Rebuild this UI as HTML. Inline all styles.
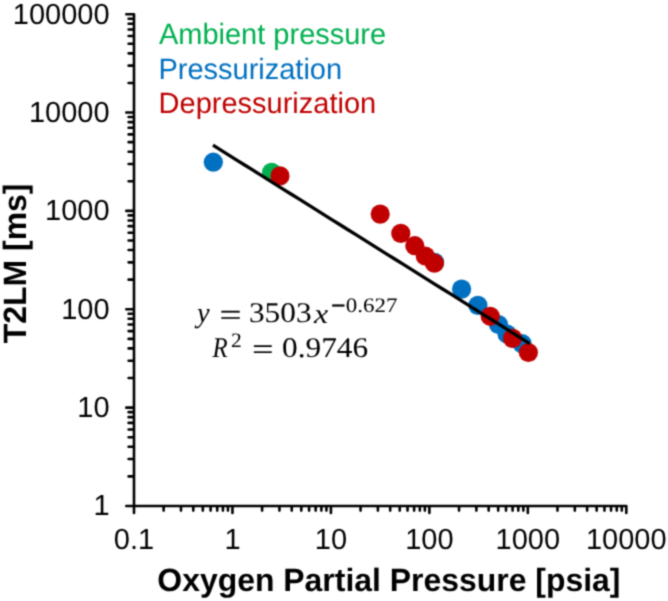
<!DOCTYPE html>
<html><head><meta charset="utf-8"><title>T2LM vs Oxygen Partial Pressure</title><style>
html,body{margin:0;padding:0;background:#fff;}
body{width:668px;height:601px;overflow:hidden;}
svg{display:block;}
text{font-kerning:none;text-rendering:geometricPrecision;letter-spacing:0;}
.s{font-family:"Liberation Sans",sans-serif;}
.b{font-family:"Liberation Sans",sans-serif;font-weight:bold;}
.r{font-family:"Liberation Serif",serif;}
.i{font-family:"Liberation Serif",serif;font-style:italic;}
</style></head><body>
<svg width="668" height="601" viewBox="0 0 668 601">
<defs><filter id="soft" color-interpolation-filters="sRGB" filterUnits="userSpaceOnUse" x="0" y="0" width="668" height="601"><feConvolveMatrix order="3" kernelMatrix="1 3 1 3 9 3 1 3 1" divisor="25" edgeMode="duplicate"/></filter></defs>
<g filter="url(#soft)">
<rect width="668" height="601" fill="#fff"/>
<path d="M126.30,14.20H134.00V506.00H626.30V513.00M126.30,506.00H134.00M128.60,476.39H134.00M128.60,459.07H134.00M128.60,446.78H134.00M128.60,437.25H134.00M128.60,429.46H134.00M128.60,422.88H134.00M128.60,417.17H134.00M128.60,412.14H134.00M126.30,407.64H134.00M128.60,378.03H134.00M128.60,360.71H134.00M128.60,348.42H134.00M128.60,338.89H134.00M128.60,331.10H134.00M128.60,324.52H134.00M128.60,318.81H134.00M128.60,313.78H134.00M126.30,309.28H134.00M128.60,279.67H134.00M128.60,262.35H134.00M128.60,250.06H134.00M128.60,240.53H134.00M128.60,232.74H134.00M128.60,226.16H134.00M128.60,220.45H134.00M128.60,215.42H134.00M126.30,210.92H134.00M128.60,181.31H134.00M128.60,163.99H134.00M128.60,151.70H134.00M128.60,142.17H134.00M128.60,134.38H134.00M128.60,127.80H134.00M128.60,122.09H134.00M128.60,117.06H134.00M126.30,112.56H134.00M128.60,82.95H134.00M128.60,65.63H134.00M128.60,53.34H134.00M128.60,43.81H134.00M128.60,36.02H134.00M128.60,29.44H134.00M128.60,23.73H134.00M128.60,18.70H134.00M126.30,14.20H134.00M134.00,506.00V513.00M163.64,506.00V510.60M180.98,506.00V510.60M193.28,506.00V510.60M202.82,506.00V510.60M210.62,506.00V510.60M217.21,506.00V510.60M222.92,506.00V510.60M227.95,506.00V510.60M232.46,506.00V513.00M262.10,506.00V510.60M279.44,506.00V510.60M291.74,506.00V510.60M301.28,506.00V510.60M309.08,506.00V510.60M315.67,506.00V510.60M321.38,506.00V510.60M326.41,506.00V510.60M330.92,506.00V513.00M360.56,506.00V510.60M377.90,506.00V510.60M390.20,506.00V510.60M399.74,506.00V510.60M407.54,506.00V510.60M414.13,506.00V510.60M419.84,506.00V510.60M424.87,506.00V510.60M429.38,506.00V513.00M459.02,506.00V510.60M476.36,506.00V510.60M488.66,506.00V510.60M498.20,506.00V510.60M506.00,506.00V510.60M512.59,506.00V510.60M518.30,506.00V510.60M523.33,506.00V510.60M527.84,506.00V513.00M557.48,506.00V510.60M574.82,506.00V510.60M587.12,506.00V510.60M596.66,506.00V510.60M604.46,506.00V510.60M611.05,506.00V510.60M616.76,506.00V510.60M621.79,506.00V510.60M626.30,506.00V513.00" stroke="#000" stroke-width="2.6" fill="none" stroke-linecap="round" stroke-linejoin="round"/>
<g fill="#000">
<text class="s" x="93.47" y="515.30" font-size="29.00">1</text>
<text class="s" x="77.34" y="416.94" font-size="29.00">10</text>
<text class="s" x="61.21" y="318.58" font-size="29.00">100</text>
<text class="s" x="45.09" y="220.22" font-size="29.00">1000</text>
<text class="s" x="28.96" y="121.86" font-size="29.00">10000</text>
<text class="s" x="12.83" y="23.50" font-size="29.00">100000</text>
<text class="s" x="113.84" y="549.00" font-size="29.00">0.1</text>
<text class="s" x="224.40" y="549.00" font-size="29.00">1</text>
<text class="s" x="314.79" y="549.00" font-size="29.00">10</text>
<text class="s" x="405.19" y="549.00" font-size="29.00">100</text>
<text class="s" x="495.58" y="549.00" font-size="29.00">1000</text>
<text class="s" x="585.98" y="549.00" font-size="29.00">10000</text>
<text class="b" transform="translate(157.29,590.90) scale(0.9901,1)" font-size="32.25">Oxygen Partial Pressure [psia]</text>
<text class="s" transform="translate(158.94,44.40) scale(0.9901,1)" font-size="29.29" fill="#00B050">Ambient pressure</text>
<text class="s" transform="translate(158.42,79.00) scale(0.9901,1)" font-size="29.29" fill="#0070C0">Pressurization</text>
<text class="s" transform="translate(158.62,113.30) scale(0.9901,1)" font-size="29.29" fill="#C00000">Depressurization</text>
<text class="b" transform="translate(26.0,342.8) rotate(-90) scale(0.9901,1)" x="-0.36" y="0" font-size="32.25">T2LM [ms]</text>
</g>
<circle cx="213.3" cy="162.2" r="9.6" fill="#0070C0"/>
<circle cx="434.6" cy="262.4" r="9.6" fill="#0070C0"/>
<circle cx="461.6" cy="289.1" r="9.6" fill="#0070C0"/>
<circle cx="477.9" cy="305.4" r="9.6" fill="#0070C0"/>
<circle cx="498.5" cy="324.5" r="9.6" fill="#0070C0"/>
<circle cx="507.0" cy="334.0" r="9.6" fill="#0070C0"/>
<circle cx="522.0" cy="343.6" r="9.6" fill="#0070C0"/>
<circle cx="271.6" cy="172.4" r="9.6" fill="#00B050"/>
<circle cx="280.0" cy="175.9" r="9.6" fill="#C00000"/>
<circle cx="380.2" cy="214.1" r="9.6" fill="#C00000"/>
<circle cx="400.8" cy="233.4" r="9.6" fill="#C00000"/>
<circle cx="414.8" cy="245.7" r="9.6" fill="#C00000"/>
<circle cx="425.3" cy="256.0" r="9.6" fill="#C00000"/>
<circle cx="434.4" cy="263.2" r="9.6" fill="#C00000"/>
<circle cx="490.2" cy="316.3" r="9.6" fill="#C00000"/>
<circle cx="512.6" cy="338.4" r="9.6" fill="#C00000"/>
<circle cx="528.4" cy="352.5" r="9.6" fill="#C00000"/>
<path d="M212.97,145.16L220.89,150.12L228.81,155.08L236.73,160.04L244.65,165.00L252.57,169.96L260.49,174.92L268.40,179.88L276.32,184.84L284.24,189.80L292.16,194.76L300.08,199.72L308.00,204.68L315.92,209.64L323.84,214.60L331.75,219.56L339.67,224.52L347.59,229.48L355.51,234.44L363.43,239.40L371.35,244.36L379.27,249.32L387.19,254.28L395.10,259.24L403.02,264.20L410.94,269.16L418.86,274.12L426.78,279.08L434.70,284.04L442.62,289.00L450.54,293.96L458.45,298.92L466.37,303.88L474.29,308.84L482.21,313.80L490.13,318.76L498.05,323.72L505.97,328.68L513.88,333.64L521.80,338.60L529.72,343.56" stroke="#000" stroke-width="3.3" fill="none" stroke-linecap="butt" stroke-linejoin="round"/>
<g fill="#000">
<text class="i" x="196.88" y="322.20" font-size="28.50">y</text>
<text class="r" transform="translate(248.90,322.20) scale(1.1000,1)" font-size="28.50">3503</text>
<text class="i" transform="translate(313.99,322.50) scale(1.1546,1)" font-size="27.64">x</text>
<text class="r" transform="translate(345.73,311.50) scale(1.1200,1)" font-size="20.50">0.627</text>
<text class="i" transform="translate(212.43,357.20) scale(0.8700,1)" font-size="28.50">R</text>
<text class="r" transform="translate(230.95,346.50) scale(1.0500,1)" font-size="20.50">2</text>
<text class="r" transform="translate(282.01,357.30) scale(1.1000,1)" font-size="28.50">0.9746</text>
<text stroke="#000" stroke-width="0.35" class="r" transform="translate(219.69,325.00) scale(1.2523,1)" font-size="30.55">=</text>
<text stroke="#000" stroke-width="0.35" class="r" transform="translate(252.14,359.00) scale(1.2624,1)" font-size="29.62">=</text>
<text stroke="#000" stroke-width="0.35" class="r" transform="translate(330.92,315.00) scale(0.9013,1)" font-size="28.61">−</text>

</g>
</g>
</svg>
</body></html>
